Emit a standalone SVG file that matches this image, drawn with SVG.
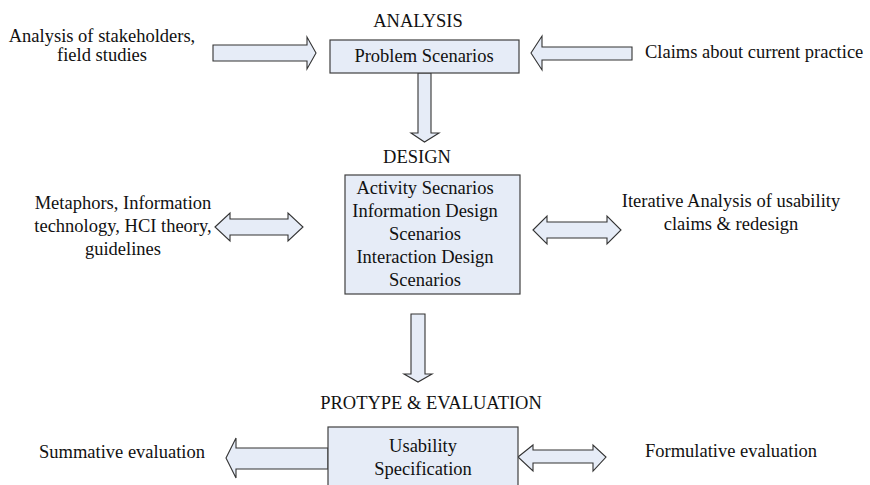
<svg xmlns="http://www.w3.org/2000/svg" width="870" height="485" viewBox="0 0 870 485">
<style>
.box{fill:#E6ECF7;stroke:#404040;stroke-width:1.2}
.arr{fill:#E6ECF7;stroke:#333;stroke-width:1.1;stroke-linejoin:miter}
text{font-family:"Liberation Serif","Times New Roman",serif;font-size:18.5px;fill:#111}
.c{text-anchor:middle}
</style>
<rect width="870" height="485" fill="#fff"/>
<g id="connectors">
<polygon class="arr" points="418,73 431,73 431,133 439,133 424.5,142 411,133 418,133"/>
<polygon class="arr" points="213,45 307,45 307,37 316,53 307,69 307,61 213,61"/>
<polygon class="arr" points="632,47 542,47 542,36 531,53 542,70 542,60 632,60"/>
<polygon class="arr" points="215,227 230,213 230,219 288,219 288,213 303,227 288,241 288,235 230,235 230,241"/>
<polygon class="arr" points="533,230 547,216 547,222 607,222 607,216 621,230 607,244 607,238 547,238 547,244"/>
<polygon class="arr" points="411,314 425,314 425,374 432,374 418,382 404,374 411,374"/>
<polygon class="arr" points="328,448 236,448 236,438 226,458 236,478 236,469 328,469"/>
<polygon class="arr" points="518,457 533,445 533,450 593,450 593,445 606,457 593,471 593,463 533,463 533,471"/>
</g>
<g id="analysis">
<text class="c" x="418" y="27">ANALYSIS</text>
</g>
<g id="problem">
<rect class="box" x="330" y="40" width="189" height="33"/>
<text class="c" x="424" y="62">Problem Scenarios</text>
</g>
<g id="stakeholders">
<text class="c" x="102" y="42">Analysis of stakeholders,</text>
<text class="c" x="102" y="61">field studies</text>
</g>
<g id="claims">
<text x="645" y="58">Claims about current practice</text>
</g>
<g id="design-label">
<text class="c" x="417" y="163">DESIGN</text>
</g>
<g id="design">
<rect class="box" x="345" y="175" width="175" height="119"/>
<text class="c" x="425" y="194">Activity Secnarios</text>
<text class="c" x="425" y="217">Information Design</text>
<text class="c" x="425" y="240">Scenarios</text>
<text class="c" x="425" y="263">Interaction Design</text>
<text class="c" x="425" y="286">Scenarios</text>
</g>
<g id="metaphors">
<text class="c" x="123" y="209">Metaphors, Information</text>
<text class="c" x="123" y="232">technology, HCI theory,</text>
<text class="c" x="123" y="255">guidelines</text>
</g>
<g id="iterative">
<text class="c" x="731" y="207">Iterative Analysis of usability</text>
<text class="c" x="731" y="230">claims &amp; redesign</text>
</g>
<g id="proto-label">
<text class="c" x="431" y="409">PROTYPE &amp; EVALUATION</text>
</g>
<g id="usability">
<rect class="box" x="328" y="427" width="190" height="70"/>
<text class="c" x="423" y="452">Usability</text>
<text class="c" x="423" y="475">Specification</text>
</g>
<g id="summative">
<text class="c" x="122" y="458">Summative evaluation</text>
</g>
<g id="formulative">
<text class="c" x="731" y="457">Formulative evaluation</text>
</g>
</svg>
